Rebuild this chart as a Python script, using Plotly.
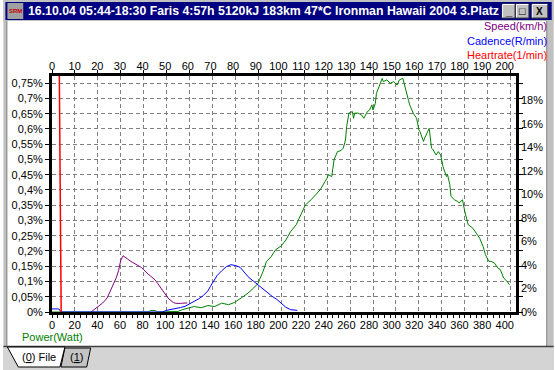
import plotly.graph_objects as go

# ---------------- data ----------------
power_w = [0, 84, 86, 90, 92, 106, 110, 114, 119, 124, 130, 136, 142, 148, 154, 159, 165, 171, 176, 180,
           181, 184, 187, 191, 195, 200, 204, 208, 213, 217, 221, 226, 230, 234, 238, 240, 241, 244, 246, 247,
           249, 252, 254, 256, 257, 259, 262, 263, 264, 267, 270, 272, 275, 277, 279, 280, 282, 283, 286, 288,
           289, 292, 295, 298, 301, 303, 306, 308, 311, 312, 315, 318, 320, 321, 324, 325, 327, 328, 329, 331,
           332, 335, 337, 339, 341, 344, 345, 347, 348, 351, 354, 355, 358, 360, 363, 367, 370, 373, 376, 378,
           381, 383, 386, 389, 391, 394, 397, 399]
power_pct = [0, 0, 0.005, 0.005, 0, 0, 0.002, 0.008, 0.013, 0.018, 0.014, 0.021, 0.018, 0.029, 0.024, 0.031, 0.046, 0.062, 0.079, 0.095,
             0.106, 0.132, 0.165, 0.181, 0.204, 0.217, 0.236, 0.263, 0.286, 0.319, 0.351, 0.368, 0.384, 0.401, 0.427, 0.439, 0.450, 0.444, 0.499, 0.510,
             0.526, 0.529, 0.537, 0.564, 0.608, 0.652, 0.657, 0.635, 0.652, 0.652, 0.646, 0.635, 0.657, 0.662, 0.679, 0.662, 0.684, 0.717, 0.744, 0.766,
             0.755, 0.761, 0.750, 0.755, 0.744, 0.761, 0.766, 0.733, 0.693, 0.679, 0.652, 0.635, 0.597, 0.591, 0.559, 0.570, 0.586, 0.597, 0.602, 0.537,
             0.534, 0.515, 0.526, 0.515, 0.477, 0.444, 0.450, 0.417, 0.379, 0.368, 0.362, 0.357, 0.368, 0.330, 0.286, 0.275, 0.259, 0.242, 0.215, 0.188,
             0.166, 0.166, 0.160, 0.144, 0.139, 0.111, 0.100, 0.089]

speed_kmh = [17, 18, 19, 20, 21, 22, 23, 24, 25, 26, 27, 28, 29, 30, 31, 32, 33, 34, 35, 36, 37, 38, 39,
             40, 41, 42, 43, 44, 45, 46, 47, 48, 49, 50, 51, 52, 53, 54, 55, 56, 57, 58, 59]
speed_pct = [0, 0.14, 0.30, 0.45, 0.62, 0.75, 0.95, 1.19, 1.60, 2.04, 2.45, 2.90, 3.50, 4.40, 4.78, 4.60, 4.50, 4.35, 4.25, 4.10, 4.00, 3.90, 3.78,
             3.60, 3.35, 3.20, 3.05, 2.90, 2.72, 2.45, 2.15, 1.90, 1.60, 1.35, 1.10, 0.92, 0.80, 0.74, 0.71, 0.73, 0.75, 0.77, 0.77]

cadence_rpm = [0, 1, 2, 3, 4, 48, 50, 52, 54, 56, 58, 60, 62, 64, 66, 68, 69, 70, 71, 72, 74, 76, 78, 80,
               82, 84, 86, 88, 90, 92, 94, 96, 98, 100, 102, 104, 107]
cadence_pct = [0.26, 0.26, 0.26, 0.26, 0, 0, 0.14, 0.20, 0.27, 0.38, 0.48, 0.68, 0.90, 1.12, 1.40, 1.80, 2.15, 2.45, 2.78, 3.10, 3.50, 3.85, 4.02, 3.95,
               3.80, 3.35, 2.90, 2.60, 2.28, 1.95, 1.62, 1.33, 1.08, 0.75, 0.40, 0.20, 0.14]

hr_bpm = [3, 4]
hr_pct = [25, 0]

power_ticks = list(range(0, 401, 20))
top_ticks = list(range(0, 201, 10))
left_tickvals = [0, 0.05, 0.1, 0.15, 0.2, 0.25, 0.3, 0.35, 0.4, 0.45, 0.5, 0.55, 0.6, 0.65, 0.7, 0.75]
left_ticktext = ["0%", "0,05%", "0,1%", "0,15%", "0,2%", "0,25%", "0,3%", "0,35%", "0,4%", "0,45%",
                 "0,5%", "0,55%", "0,6%", "0,65%", "0,7%", "0,75%"]
right_tickvals = [0, 2, 4, 6, 8, 10, 12, 14, 16, 18]
right_ticktext = ["0%", "2%", "4%", "6%", "8%", "10%", "12%", "14%", "16%", "18%"]

title_text = "16.10.04 05:44-18:30 Faris 4:57h 5120kJ 183km 47*C Ironman Hawaii 2004 3.Platz"

# ---------------- layout geometry ----------------
W, H = 555, 370
L, R, T, B = 49, 38, 76, 58
PW = W - L - R
PH = H - T - B


def px(x):
    return (x - L) / PW


def py(y):
    return (H - B - y) / PH


FONT = "Liberation Sans, Arial, sans-serif"
GREEN, PURPLE, BLUE, RED = "#008000", "#800080", "#0000ff", "#ff0000"

fig = go.Figure()
fig.add_trace(go.Scatter(x=power_w, y=power_pct, mode="lines", line=dict(color=GREEN, width=1),
                         xaxis="x", yaxis="y", name="Power"))
fig.add_trace(go.Scatter(x=speed_kmh, y=speed_pct, mode="lines", line=dict(color=PURPLE, width=1),
                         xaxis="x2", yaxis="y2", name="Speed"))
fig.add_trace(go.Scatter(x=cadence_rpm, y=cadence_pct, mode="lines", line=dict(color=BLUE, width=1),
                         xaxis="x2", yaxis="y2", name="Cadence"))
fig.add_trace(go.Scatter(x=hr_bpm, y=hr_pct, mode="lines", line=dict(color=RED, width=1.5),
                         xaxis="x2", yaxis="y2", name="Heartrate"))
# invisible helpers so the label-only axes are rendered
fig.add_trace(go.Scatter(x=[None], y=[None], xaxis="x3", yaxis="y", hoverinfo="skip", showlegend=False))
fig.add_trace(go.Scatter(x=[None], y=[None], xaxis="x4", yaxis="y", hoverinfo="skip", showlegend=False))

tickfont = dict(family=FONT, size=11, color="black")

fig.update_layout(
    width=W, height=H,
    margin=dict(l=L, r=R, t=T, b=B, pad=0),
    paper_bgcolor="white", plot_bgcolor="white",
    showlegend=False,
    # bottom power axis: ticks, line, grid
    xaxis=dict(range=[0, 404.7], tickmode="linear", tick0=0, dtick=20, ticks="outside", ticklen=3,
               tickcolor="black", showline=True, linecolor="black", linewidth=3, mirror=False,
               showgrid=True, gridcolor="#808080", griddash="4px,3px", gridwidth=1, zeroline=False,
               showticklabels=False,
               minor=dict(dtick=5, tick0=0, ticks="outside", ticklen=3, tickcolor="black", showgrid=False)),
    # top axis: ticks and line
    xaxis2=dict(range=[0, 202.35], overlaying="x", side="top", anchor="y", tickmode="linear", tick0=0, dtick=10,
                ticks="outside", ticklen=3, tickcolor="black", showline=True, linecolor="black", linewidth=3,
                showgrid=False, zeroline=False, showticklabels=False),
    # label-only axes (labels are spaced slightly tighter than the ticks in the original)
    xaxis3=dict(range=[0, 409.9], overlaying="x", side="bottom", anchor="y", tickmode="array",
                tickvals=power_ticks, ticks="", showline=False, showgrid=False, zeroline=False,
                tickfont=tickfont, ticklabelstandoff=5),
    xaxis4=dict(range=[0, 204.95], overlaying="x", side="top", anchor="y", tickmode="array",
                tickvals=top_ticks, ticks="", showline=False, showgrid=False, zeroline=False,
                tickfont=tickfont, ticklabelstandoff=3),
    yaxis=dict(range=[0, 0.7737], tickmode="array", tickvals=left_tickvals, ticktext=left_ticktext,
               ticks="outside", ticklen=4, tickcolor="black", showline=True, linecolor="black", linewidth=3,
               mirror="ticks", showgrid=True, gridcolor="#808080", griddash="4px,3px", gridwidth=1,
               zeroline=False, tickfont=tickfont),
    yaxis2=dict(range=[0, 20.06], overlaying="y", side="right", anchor="x", tickmode="array",
                tickvals=right_tickvals, ticktext=right_ticktext, ticks="", showline=False,
                showgrid=False, zeroline=False, tickfont=tickfont, ticklabelstandoff=4),
)

shapes = []
ann = []
GRAY = "#c0c0c0"


def rect(x0, y0, x1, y1, fill, line=None, lw=0, layer="above"):
    shapes.append(dict(type="rect", xref="paper", yref="paper", x0=px(x0), x1=px(x1), y0=py(y0), y1=py(y1),
                       fillcolor=fill, line=dict(color=line or fill, width=lw), layer=layer))


def seg(x0, y0, x1, y1, color, lw=1):
    shapes.append(dict(type="line", xref="paper", yref="paper", x0=px(x0), x1=px(x1), y0=py(y0), y1=py(y1),
                       line=dict(color=color, width=lw), layer="above"))


def path(points, fill, line="black", lw=1):
    d = "M " + " L ".join(f"{px(x)},{py(y)}" for x, y in points) + " Z"
    shapes.append(dict(type="path", xref="paper", yref="paper", path=d, fillcolor=fill,
                       line=dict(color=line, width=lw), layer="above"))


def text(x, y, s, color="black", size=11, xanchor="center", bold=False, family=FONT):
    ann.append(dict(xref="paper", yref="paper", x=px(x), y=py(y), text=(f"<b>{s}</b>" if bold else s),
                    showarrow=False, xanchor=xanchor, yanchor="middle",
                    font=dict(family=family, size=size, color=color)))


# window frame
rect(0, 0, 555, 21, GRAY)
rect(0, 0, 3.5, 370, GRAY)
seg(3.5, 21, 3.5, 346, "#808080", 1)
rect(548, 0, 555, 370, GRAY)
seg(548, 21, 548, 346, "#808080", 1)
# title bar
rect(2, 2, 553, 20, "#000080")
# icon
rect(4, 3, 20, 19, "#a0a0a0")
text(12, 11, "SRM", color="#c00000", size=6, bold=True)
# title text
text(23, 11.5, title_text, color="white", size=12.3, xanchor="left", bold=True)
# buttons
for (bx0, bx1, glyph) in [(503, 516, "_"), (517, 530, "□"), (533, 549, "X")]:
    rect(bx0, 4, bx1, 18, GRAY, line="#404040", lw=1)
    seg(bx0 + 0.5, 4.5, bx1 - 0.5, 4.5, "white", 1)
    seg(bx0 + 0.5, 4.5, bx0 + 0.5, 17.5, "white", 1)
    text((bx0 + bx1) / 2, 11, glyph, color="black", size=11 if glyph != "X" else 10, bold=True)

# bottom tab strip
rect(0, 346, 555, 370, "#d4d4d4")
seg(0, 346.5, 555, 346.5, "#404040", 1.5)
path([(62, 348), (88, 348), (84, 367), (58, 367)], "#c4c4c4")
path([(4, 347), (62, 347), (57, 367), (15, 367)], "white")
text(36, 357, "(<u>0</u>) File", size=11)
text(74, 357, "(<u>1</u>)", size=11)

# series legends
text(550, 25.5, "Speed(km/h)", color=PURPLE, size=11, xanchor="right")
text(550, 40.5, "Cadence(R/min)", color=BLUE, size=11, xanchor="right")
text(550, 55, "Heartrate(1/min)", color=RED, size=11, xanchor="right")
text(17, 337, "Power(Watt)", color=GREEN, size=11, xanchor="left")

fig.update_layout(shapes=shapes, annotations=ann)
fig.write_html(
    "out.html",
    config={"displayModeBar": False},
    post_script="document.body.style.margin='0';document.body.style.padding='0';"
                "document.body.style.overflow='hidden';document.documentElement.style.overflow='hidden';",
)
